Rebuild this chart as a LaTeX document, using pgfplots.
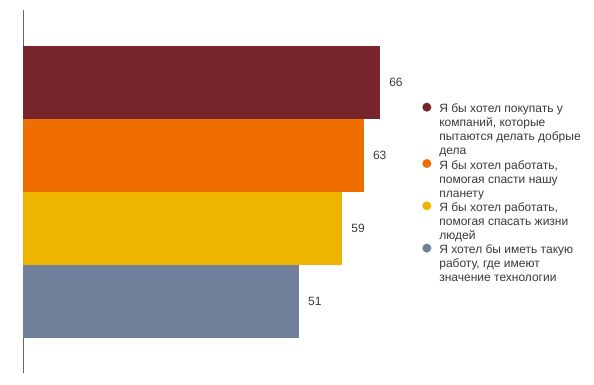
\documentclass[border=0pt]{standalone}
\usepackage{fontspec}
\setmainfont{Liberation Sans}
\usepackage{pgfplots}
\pgfplotsset{compat=1.18}
\definecolor{c1}{HTML}{77242A}
\definecolor{c2}{HTML}{F06D00}
\definecolor{c3}{HTML}{EDB500}
\definecolor{c4}{HTML}{717F9B}
\definecolor{txt}{HTML}{3A3A3A}
\definecolor{axgray}{HTML}{666666}
\pgfkeys{/tikz/lshift/.initial=0pt}
\begin{document}
\begin{tikzpicture}[x=1pt,y=1pt]
\path[use as bounding box] (0,0) rectangle (594,384);
\begin{axis}[
  at={(23pt,11pt)}, anchor=south west,
  scale only axis, width=378.7pt, height=363pt,
  xmin=0, xmax=70, ymin=0.021, ymax=4.993,
  xbar, bar width=73pt, bar shift=0pt,
  axis x line=none, axis y line*=left,
  ytick=\empty, xtick=\empty,
  y axis line style={draw=axgray, line width=0.8pt},
  clip=false,
  /pgf/number format/assume math mode=true,
  nodes near coords,
  nodes near coords style={font=\fontsize{12}{14}\selectfont, text=txt, inner sep=0pt, xshift=9pt, anchor=west},
  legend style={at={(1.054,0.747)}, anchor=north west, draw=none,
    font=\fontsize{12}{14}\selectfont, text=txt, cells={anchor=west, align=left},
    row sep=0pt, column sep=6pt, inner sep=0pt},
  legend cell align=left,
  legend image code/.code={
    \pgfpathmoveto{\pgfqpoint{0pt}{-20pt}}\pgfpathlineto{\pgfqpoint{0pt}{20pt}}\pgfusepath{}%
    \begin{scope}[#1]
      \fill (0pt,\pgfkeysvalueof{/tikz/lshift}) circle (4.5pt);
    \end{scope}},
]
\addplot[fill=c1, draw=none, lshift=23pt] coordinates {(66,4)};
\addlegendentry{Я бы хотел покупать у\\компаний, которые\\пытаются делать добрые\\дела}
\addplot[fill=c2, draw=none, lshift=16pt] coordinates {(63,3)};
\addlegendentry{Я бы хотел работать,\\помогая спасти нашу\\планету}
\addplot[fill=c3, draw=none, lshift=16pt] coordinates {(59,2)};
\addlegendentry{Я бы хотел работать,\\помогая спасать жизни\\людей}
\addplot[fill=c4, draw=none, lshift=16pt] coordinates {(51,1)};
\addlegendentry{Я хотел бы иметь такую\\работу, где имеют\\значение технологии}
\end{axis}
\end{tikzpicture}
\end{document}
